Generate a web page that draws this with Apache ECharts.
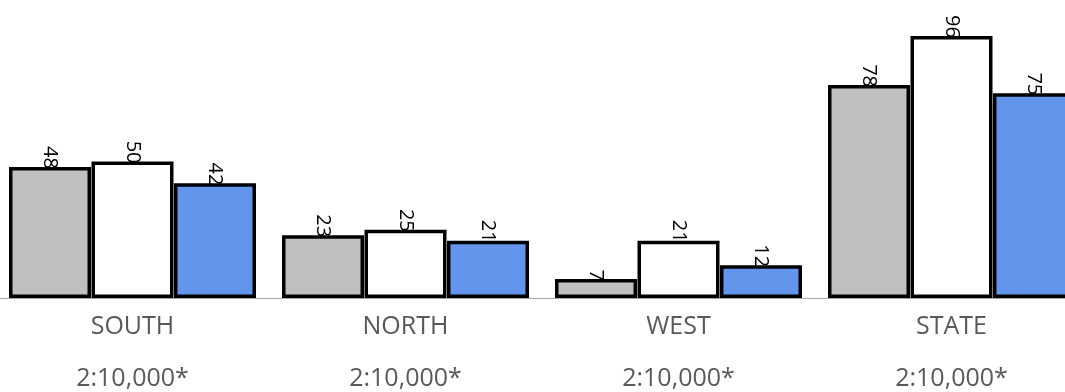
<!DOCTYPE html>
<html><head><meta charset="utf-8">
<script src="https://cdn.jsdelivr.net/npm/echarts@6/dist/echarts.min.js"></script>
<style>html,body{margin:0;padding:0;background:#fff;overflow:hidden;width:1065px;height:392px;position:relative}#c{position:absolute;left:-4px;top:0;width:1092px;height:392px}</style>
</head><body><div id="c"></div>
<script>
const categories = ['SOUTH', 'NORTH', 'WEST', 'STATE'];
const subLabel = '2:10,000*';
const seriesA = [48, 23, 7, 78];
const seriesB = [50, 25, 21, 96];
const seriesC = [42, 21, 12, 75];
const colors = ['#bfbfbf', '#ffffff', '#6495ed'];

const chart = echarts.init(document.getElementById('c'));
function mk(data, color) {
  return {
    type: 'bar', data: data, barWidth: 82, barGap: '0.6%',
    itemStyle: { color: color, borderColor: '#000', borderWidth: 3.5 },
    label: {
      show: true, position: 'top', distance: -2, rotate: -90,
      align: 'right', verticalAlign: 'middle',
      fontFamily: 'Open Sans', fontSize: 20, color: '#000'
    }
  };
}
chart.setOption({
  animation: false,
  grid: { left: 0, right: 0, top: 25, bottom: 93, containLabel: false },
  xAxis: {
    type: 'category', data: categories,
    axisLine: { lineStyle: { color: '#a6a6a6', width: 1 } },
    axisTick: { show: false },
    axisLabel: {
      formatter: v => v + '\n\n' + subLabel,
      fontFamily: 'Open Sans', fontSize: 25, color: '#595959', lineHeight: 26, margin: 16
    }
  },
  yAxis: { type: 'value', min: 0, max: 100, show: false, splitLine: { show: false } },
  series: [mk(seriesA, colors[0]), mk(seriesB, colors[1]), mk(seriesC, colors[2])]
});
</script></body></html>
